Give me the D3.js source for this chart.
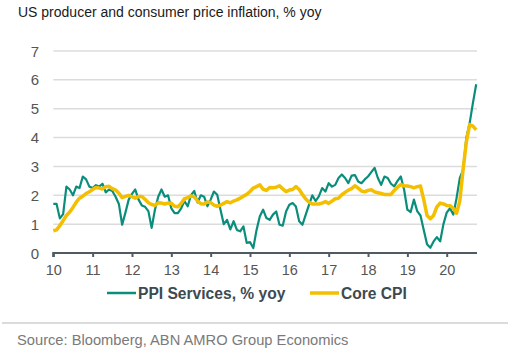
<!DOCTYPE html>
<html><head><meta charset="utf-8">
<script src="https://cdn.jsdelivr.net/npm/d3@7"></script>
<style>body{margin:0;background:#fff;}svg{display:block;font-family:"Liberation Sans",Arial,sans-serif;}</style>
</head><body>
<svg id="c" width="512" height="357"></svg>
<script>
const title = "US producer and consumer price inflation, % yoy";
const source = "Source: Bloomberg, ABN AMRO Group Economics";
const yTicks = [0,1,2,3,4,5,6,7];
const xTickLabels = ["10","11","12","13","14","15","16","17","18","19","20"];
const seriesNames = ["PPI Services, % yoy","Core CPI"];
const startYear = 10; // monthly data from axis position "10"
const ppiServices = [
1.7,1.7,1.2,1.35,2.3,2.2,2.0,2.3,2.25,2.65,2.55,2.3,
2.25,2.35,2.3,2.4,2.1,2.2,2.15,1.95,1.7,0.98,1.4,1.85,
2.05,2.2,1.85,1.65,1.6,1.45,0.87,1.5,1.95,2.2,1.95,2.0,
1.55,1.38,1.38,1.55,1.8,1.62,2.0,2.15,1.75,2.0,1.95,1.62,
1.85,2.13,2.02,1.5,1.0,1.15,0.82,1.1,0.8,0.75,0.92,0.35,
0.38,0.17,0.8,1.27,1.5,1.21,1.15,1.33,1.44,0.98,0.95,1.44,
1.67,1.73,1.61,1.1,0.98,1.33,1.67,2.0,1.8,1.96,2.25,2.13,
2.42,2.3,2.36,2.6,2.72,2.6,2.42,2.68,2.7,2.48,2.42,2.55,
2.65,2.8,2.95,2.6,2.36,2.65,2.6,2.4,2.31,2.5,2.65,2.2,
1.5,1.42,1.85,1.45,1.3,0.8,0.3,0.18,0.4,0.55,0.4,1.0,
1.4,1.55,1.33,1.9,2.6,2.88,4.0,4.5,5.2,5.85];
const coreCPI = [
0.77,0.8,0.95,1.12,1.3,1.42,1.58,1.76,1.9,1.97,2.06,2.12,
2.2,2.27,2.25,2.22,2.3,2.31,2.23,2.18,2.07,1.92,1.96,2.0,
1.95,1.9,1.96,1.96,1.86,1.74,1.68,1.65,1.74,1.73,1.7,1.73,
1.72,1.62,1.6,1.72,1.88,1.92,1.98,1.95,1.8,1.71,1.7,1.77,
1.75,1.66,1.62,1.66,1.72,1.78,1.74,1.8,1.84,1.9,1.97,2.03,
2.13,2.25,2.3,2.36,2.21,2.17,2.27,2.26,2.28,2.33,2.22,2.13,
2.18,2.2,2.3,2.2,2.03,1.87,1.76,1.7,1.7,1.7,1.73,1.78,
1.72,1.8,1.88,1.9,2.02,2.1,2.18,2.23,2.33,2.25,2.15,2.12,
2.17,2.19,2.12,2.09,2.06,2.03,2.03,2.03,2.17,2.28,2.37,2.33,
2.32,2.3,2.26,2.3,2.32,1.85,1.3,1.19,1.3,1.6,1.73,1.7,
1.65,1.64,1.55,1.38,1.8,2.9,3.85,4.45,4.4,4.27];
const colors = ["#0a8e7b","#f3bf00"];

const svg = d3.select("#c");
const x = d3.scaleLinear().domain([10, 20.77]).range([53.3, 477]);
const y = d3.scaleLinear().domain([0, 7]).range([253, 51]);

svg.append("text").attr("x",18).attr("y",17).attr("font-size",14).attr("fill","#1a1a1a").text(title);

// gridlines
svg.append("g").selectAll("line").data(yTicks.filter(d=>d>0)).join("line")
  .attr("x1",x(10)).attr("x2",x(20.77)).attr("y1",d=>y(d)).attr("y2",d=>y(d))
  .attr("stroke","#dcdcdc").attr("stroke-width",1.5);

// y labels
svg.append("g").selectAll("text").data(yTicks).join("text")
  .attr("x",39).attr("y",d=>y(d)+5.5).attr("text-anchor","end")
  .attr("font-size",15).attr("fill","#555").text(d=>d);

// x axis
const xAxis = d3.axisBottom(x).tickValues(xTickLabels.map(Number)).tickSize(4).tickFormat(d=>String(d));
const gx = svg.append("g").attr("transform",`translate(0,${y(0)})`).call(xAxis);
gx.select(".domain").attr("stroke","#4f5b62").attr("stroke-width",2.2).attr("d",`M${x(10)},4V0H${x(20.77)}`);
gx.selectAll(".tick line").attr("stroke","#4f5b62").attr("stroke-width",2);
gx.selectAll(".tick text").attr("font-size",14.5).attr("fill","#555").attr("font-family","Liberation Sans, Arial, sans-serif").attr("dy","1.05em");

const line = d3.line().x((d,i)=>x(startYear + i/12)).y(d=>y(d));
svg.append("path").datum(ppiServices).attr("d",line).attr("fill","none").attr("stroke",colors[0]).attr("stroke-width",2.2).attr("stroke-linejoin","round");
svg.append("path").datum(coreCPI).attr("d",line).attr("fill","none").attr("stroke",colors[1]).attr("stroke-width",3.5).attr("stroke-linejoin","round");

// legend
const leg = [{x:107,tx:138},{x:310,tx:341}];
seriesNames.forEach((n,i)=>{
  svg.append("line").attr("x1",leg[i].x).attr("x2",leg[i].x+29).attr("y1",293).attr("y2",293)
    .attr("stroke",colors[i]).attr("stroke-width",i?3.5:2.5);
  svg.append("text").attr("x",leg[i].tx).attr("y",298.5).attr("font-size",15.6).attr("font-weight","bold")
    .attr("fill","#3d4a52").text(n);
});

svg.append("line").attr("x1",2).attr("x2",508).attr("y1",323).attr("y2",323).attr("stroke","#cfcfcf").attr("stroke-width",1.5);
svg.append("text").attr("x",17).attr("y",345).attr("font-size",14.7).attr("fill","#7a7a7a").text(source);
</script>
</body></html>
